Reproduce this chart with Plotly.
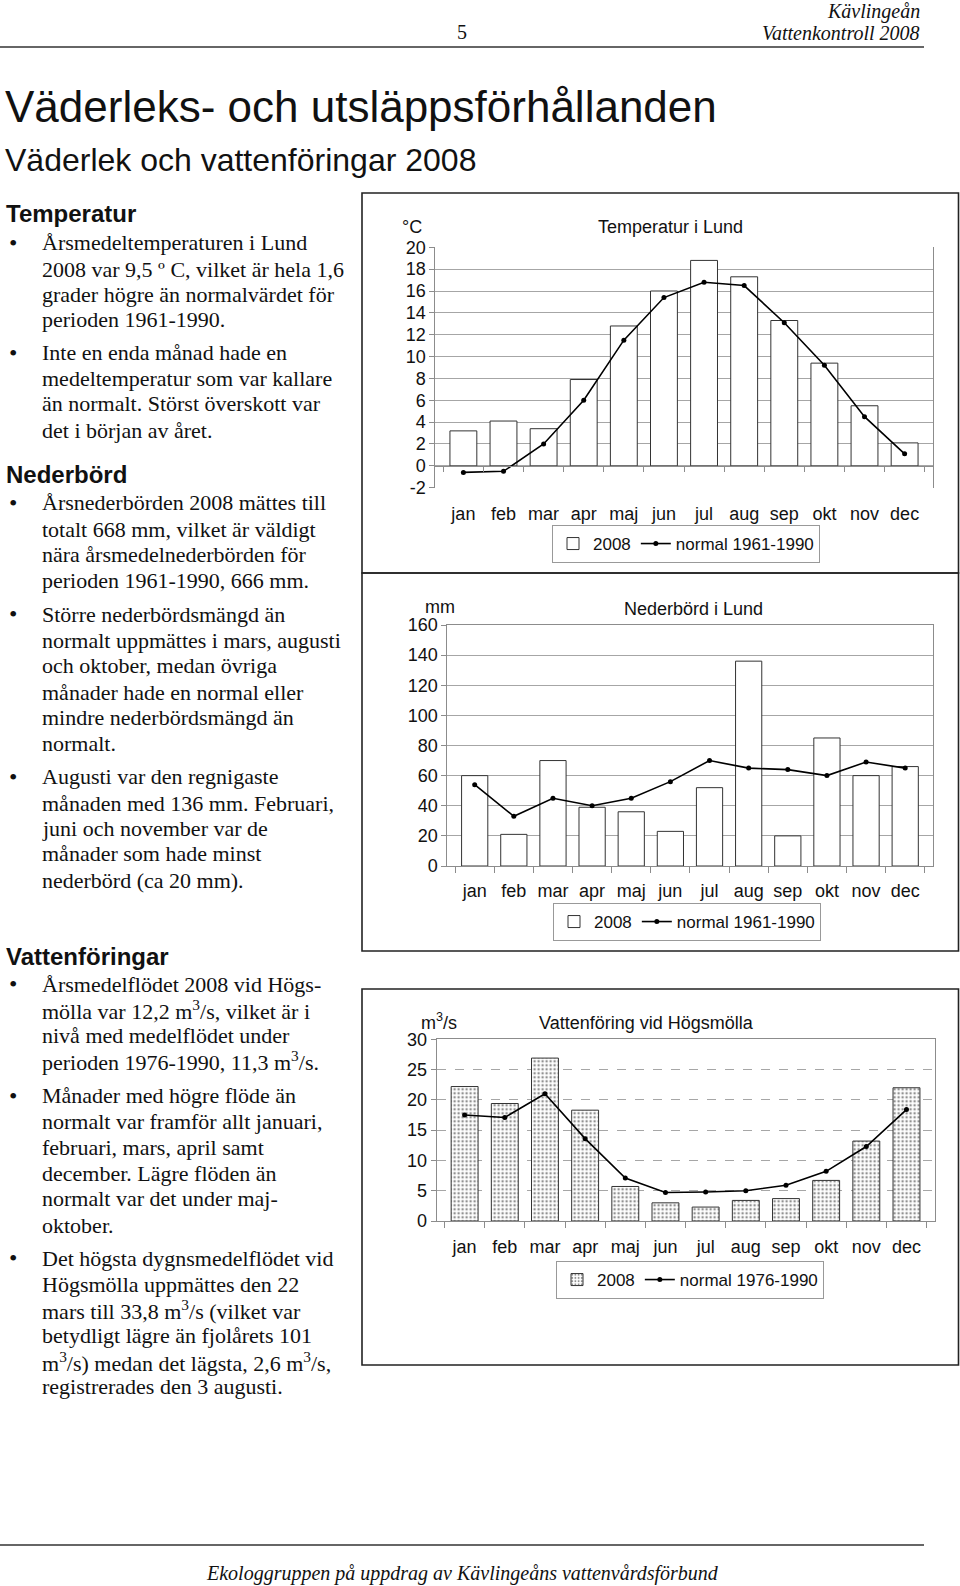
import plotly.graph_objects as go

# ---------------- data ----------------
months = ["jan", "feb", "mar", "apr", "maj", "jun", "jul", "aug", "sep", "okt", "nov", "dec"]

temp_2008 = [3.2, 4.1, 3.4, 7.9, 12.8, 16.0, 18.8, 17.3, 13.3, 9.4, 5.5, 2.1]
temp_normal = [-0.6, -0.5, 2.0, 6.0, 11.5, 15.4, 16.8, 16.5, 13.1, 9.2, 4.5, 1.1]

prec_2008 = [60, 21, 70, 39, 36, 23, 52, 136, 20, 85, 60, 66]
prec_normal = [54, 33, 45, 40, 45, 56, 70, 65, 64, 60, 69, 65]

flow_2008 = [22.2, 19.4, 26.9, 18.3, 5.7, 3.0, 2.3, 3.4, 3.7, 6.7, 13.2, 22.0]
flow_normal = [17.5, 17.1, 21.0, 13.6, 7.1, 4.7, 4.8, 5.0, 5.9, 8.2, 12.3, 18.4]

temp_ticks = list(range(-2, 21, 2))
prec_ticks = list(range(0, 161, 20))
flow_ticks = list(range(0, 31, 5))

series_2008 = "2008"
series_norm_a = "normal 1961-1990"
series_norm_b = "normal 1976-1990"

header_right = ["Kävlingeån", "Vattenkontroll 2008"]
page_no = "5"
main_title = "Väderleks- och utsläppsförhållanden"
sub_title = "Väderlek och vattenföringar 2008"
footer = "Ekologgruppen på uppdrag av Kävlingeåns vattenvårdsförbund"

chart_titles = ["Temperatur i Lund", "Nederbörd i Lund", "Vattenföring vid Högsmölla"]
unit_labels = ["°C", "mm", "m<sup>3</sup>/s"]

# text column: (kind, text) ; kind: "h" heading, "b" bullet first line, "t" continuation
body = [
    ("h", "Temperatur"),
    ("b", "Årsmedeltemperaturen i Lund"),
    ("t", "2008 var 9,5 º C, vilket är hela 1,6"),
    ("t", "grader högre än normalvärdet för"),
    ("t", "perioden 1961-1990."),
    ("b", "Inte en enda månad hade en"),
    ("t", "medeltemperatur som var kallare"),
    ("t", "än normalt. Störst överskott var"),
    ("t", "det i början av året."),
    ("h", "Nederbörd"),
    ("b", "Årsnederbörden 2008 mättes till"),
    ("t", "totalt 668 mm, vilket är väldigt"),
    ("t", "nära årsmedelnederbörden för"),
    ("t", "perioden 1961-1990, 666 mm."),
    ("b", "Större nederbördsmängd än"),
    ("t", "normalt uppmättes i mars, augusti"),
    ("t", "och oktober, medan övriga"),
    ("t", "månader hade en normal eller"),
    ("t", "mindre nederbördsmängd än"),
    ("t", "normalt."),
    ("b", "Augusti var den regnigaste"),
    ("t", "månaden med 136 mm. Februari,"),
    ("t", "juni och november var de"),
    ("t", "månader som hade minst"),
    ("t", "nederbörd (ca 20 mm)."),
    ("h", "Vattenföringar"),
    ("b", "Årsmedelflödet 2008 vid Högs-"),
    ("t", "mölla var 12,2 m<sup>3</sup>/s, vilket är i"),
    ("t", "nivå med medelflödet under"),
    ("t", "perioden 1976-1990, 11,3 m<sup>3</sup>/s."),
    ("b", "Månader med högre flöde än"),
    ("t", "normalt var framför allt januari,"),
    ("t", "februari, mars, april samt"),
    ("t", "december. Lägre flöden än"),
    ("t", "normalt var det under maj-"),
    ("t", "oktober."),
    ("b", "Det högsta dygnsmedelflödet vid"),
    ("t", "Högsmölla uppmättes den 22"),
    ("t", "mars till 33,8 m<sup>3</sup>/s (vilket var"),
    ("t", "betydligt lägre än fjolårets 101"),
    ("t", "m<sup>3</sup>/s) medan det lägsta, 2,6 m<sup>3</sup>/s,"),
    ("t", "registrerades den 3 augusti."),
]

# ---------------- layout helpers (pixel -> paper) ----------------
W, H = 960, 1586
def fx(px):
    return px / W
def fy(py):
    return 1 - py / H

# vertical pixel positions of the text lines (layout, not data)
body_y = [213.5, 242.8, 269, 294.4, 319.7, 353, 378.3, 403.6, 430,
          474.4, 502.8, 529, 554.4, 580.7, 614, 640.3, 665.6, 692, 717.2, 743.5,
          777, 803.2, 828.5, 853.8, 880,
          956, 984.3, 1009.6, 1035.9, 1061.2, 1095.6, 1121.9, 1147.2, 1173.5, 1198.7, 1225,
          1258.4, 1284.7, 1310, 1335.3, 1361.6, 1386.9]

SANS = "Liberation Sans, Arial, sans-serif"
SERIF = "Liberation Serif, Times New Roman, serif"
GRID = "#a6a6a6"
AXL = "#8c8c8c"
CF = dict(family=SANS, size=18, color="#111")

fig = go.Figure()

# ---- Temperature ----
fig.add_trace(go.Bar(x=months, y=temp_2008, name=series_2008, xaxis="x", yaxis="y",
                     marker=dict(color="white", line=dict(color="#333", width=1)),
                     legend="legend"))
fig.add_trace(go.Scatter(x=months, y=temp_normal, name=series_norm_a, xaxis="x", yaxis="y",
                         mode="lines+markers", line=dict(color="black", width=1.6),
                         marker=dict(color="black", size=5), legend="legend"))
# ---- Precipitation ----
fig.add_trace(go.Bar(x=months, y=prec_2008, name=series_2008, xaxis="x2", yaxis="y2",
                     marker=dict(color="white", line=dict(color="#333", width=1)),
                     legend="legend2"))
fig.add_trace(go.Scatter(x=months, y=prec_normal, name=series_norm_a, xaxis="x2", yaxis="y2",
                         mode="lines+markers", line=dict(color="black", width=1.6),
                         marker=dict(color="black", size=5), legend="legend2"))
# ---- Flow ----
fig.add_trace(go.Bar(x=months, y=flow_2008, name=series_2008, xaxis="x3", yaxis="y3",
                     marker=dict(color="white", line=dict(color="#333", width=1),
                                 pattern=dict(shape=".", fgcolor="#222", bgcolor="white",
                                              size=4, solidity=0.3)),
                     legend="legend3"))
fig.add_trace(go.Scatter(x=months, y=flow_normal, name=series_norm_b, xaxis="x3", yaxis="y3",
                         mode="lines+markers", line=dict(color="black", width=1.6),
                         marker=dict(color="black", size=5), legend="legend3"))

# domains in pixels
tdx, tdy = (435.4, 932.6), (247.3, 487.7)
pdx, pdy = (447.3, 932.6), (625.0, 866.0)
qdx, qdy = (436.6, 934.5), (1039.3, 1221.0)

def xdom(d):
    return [fx(d[0]), fx(d[1])]
def ydom(d):
    return [fy(d[1]), fy(d[0])]

t_lo, t_hi = temp_ticks[0], temp_ticks[-1]
tyd = ydom(tdy)
zero_pos = tyd[0] + (0 - t_lo) / (t_hi - t_lo) * (tyd[1] - tyd[0])

xcommon = dict(type="category", categoryorder="array", categoryarray=months,
               tickfont=CF, tickangle=0, showgrid=False, zeroline=False, fixedrange=True,
               automargin=False)
ycommon = dict(tickfont=CF, showgrid=True, gridcolor=GRID, gridwidth=1, zeroline=False,
               showline=True, linecolor=AXL, linewidth=1, mirror=True,
               ticks="outside", ticklen=5, tickcolor=AXL, fixedrange=True, automargin=False)

fig.update_layout(
    xaxis=dict(domain=xdom(tdx), anchor="free", position=zero_pos, showline=True,
               linecolor=AXL, linewidth=1, ticks="outside", tickson="boundaries",
               ticklen=5, tickcolor=AXL, ticklabelstandoff=32, **xcommon),
    yaxis=dict(domain=tyd, anchor="x", range=[t_lo, t_hi],
               tickvals=temp_ticks, ticktext=[str(v) for v in temp_ticks], **ycommon),
    xaxis2=dict(domain=xdom(pdx), anchor="y2", showline=True, linecolor=AXL, linewidth=1,
                mirror=True, ticks="outside", tickson="boundaries", ticklen=6,
                tickcolor=AXL, ticklabelstandoff=8, **xcommon),
    yaxis2=dict(domain=ydom(pdy), anchor="x2", range=[prec_ticks[0], prec_ticks[-1]],
                tickvals=prec_ticks, **ycommon),
    xaxis3=dict(domain=xdom(qdx), anchor="y3", showline=True, linecolor=AXL, linewidth=1,
                mirror=True, ticks="outside", tickson="boundaries", ticklen=6,
                tickcolor=AXL, ticklabelstandoff=9, **xcommon),
    yaxis3=dict(domain=ydom(qdy), anchor="x3", range=[flow_ticks[0], flow_ticks[-1]],
                tickvals=flow_ticks, griddash="dash", **ycommon),
)

legend_common = dict(orientation="h", xanchor="center", yanchor="middle",
                     bgcolor="white", bordercolor="#999", borderwidth=1,
                     font=dict(family=SANS, size=17, color="#111"),
                     itemwidth=30, tracegroupgap=0, itemclick=False, itemdoubleclick=False)
fig.update_layout(
    legend=dict(x=fx(686), y=fy(544), **legend_common),
    legend2=dict(x=fx(687), y=fy(922), **legend_common),
    legend3=dict(x=fx(690), y=fy(1280), **legend_common),
    bargap=0.33,
    width=W, height=H,
    margin=dict(l=0, r=0, t=0, b=0, pad=0, autoexpand=False),
    paper_bgcolor="white", plot_bgcolor="white",
    showlegend=True,
)

ann = []
# chart titles and units
for txt, (cx, cy) in zip(chart_titles, [(670, 227), (693, 609), (646, 1023)]):
    ann.append(dict(text=txt, x=fx(cx), y=fy(cy), xref="paper", yref="paper",
                    xanchor="center", yanchor="middle", showarrow=False, font=CF))
for txt, (cx, cy) in zip(unit_labels, [(412, 227), (440, 607), (438.5, 1022)]):
    ann.append(dict(text=txt, x=fx(cx), y=fy(cy), xref="paper", yref="paper",
                    xanchor="center", yanchor="middle", showarrow=False, font=CF))

# page header / titles / footer
ann.append(dict(text=page_no, x=fx(462), y=fy(32), xref="paper", yref="paper",
                xanchor="center", yanchor="middle", showarrow=False,
                font=dict(family=SERIF, size=20, color="#111")))
for txt, yy in zip(header_right, [12, 33]):
    ann.append(dict(text="<i>" + txt + "</i>", x=fx(922), y=fy(yy), xref="paper", yref="paper",
                    xanchor="right", yanchor="middle", showarrow=False,
                    font=dict(family=SERIF, size=20, color="#111")))
ann.append(dict(text=main_title, x=fx(3), y=fy(106), xref="paper", yref="paper",
                xanchor="left", yanchor="middle", showarrow=False,
                font=dict(family=SANS, size=44, color="#111")))
ann.append(dict(text=sub_title, x=fx(3), y=fy(160), xref="paper", yref="paper",
                xanchor="left", yanchor="middle", showarrow=False,
                font=dict(family=SANS, size=32, color="#111")))
ann.append(dict(text="<i>" + footer + "</i>", x=fx(462), y=fy(1573), xref="paper", yref="paper",
                xanchor="center", yanchor="middle", showarrow=False,
                font=dict(family=SERIF, size=20, color="#111")))

# body text column
for (kind, txt), yy in zip(body, body_y):
    if kind == "h":
        ann.append(dict(text="<b>" + txt + "</b>", x=fx(4), y=fy(yy), xref="paper", yref="paper",
                        xanchor="left", yanchor="middle", showarrow=False,
                        font=dict(family=SANS, size=24, color="#111")))
        continue
    if kind == "b":
        ann.append(dict(text="•", x=fx(13), y=fy(yy), xref="paper", yref="paper",
                        xanchor="center", yanchor="middle", showarrow=False,
                        font=dict(family=SERIF, size=24, color="#111")))
    ann.append(dict(text=txt, x=fx(39.5), y=fy(yy), xref="paper", yref="paper",
                    xanchor="left", yanchor="middle", showarrow=False,
                    font=dict(family=SERIF, size=22, color="#111")))

fig.update_layout(annotations=ann)

# frames and rules
shapes = []
for (y0, y1) in [(193, 573), (573, 951), (989, 1365)]:
    shapes.append(dict(type="rect", xref="paper", yref="paper",
                       x0=fx(362), x1=fx(958.5), y0=fy(y1), y1=fy(y0),
                       line=dict(color="#222", width=1.6), fillcolor="rgba(0,0,0,0)",
                       layer="below"))
for yy in [47, 1545]:
    shapes.append(dict(type="line", xref="paper", yref="paper",
                       x0=0, x1=fx(924), y0=fy(yy), y1=fy(yy),
                       line=dict(color="#333", width=1.6)))
fig.update_layout(shapes=shapes)

fig.write_html("out.html", config={"displayModeBar": False},
               post_script="document.body.style.margin='0';document.body.style.overflow='hidden';")
